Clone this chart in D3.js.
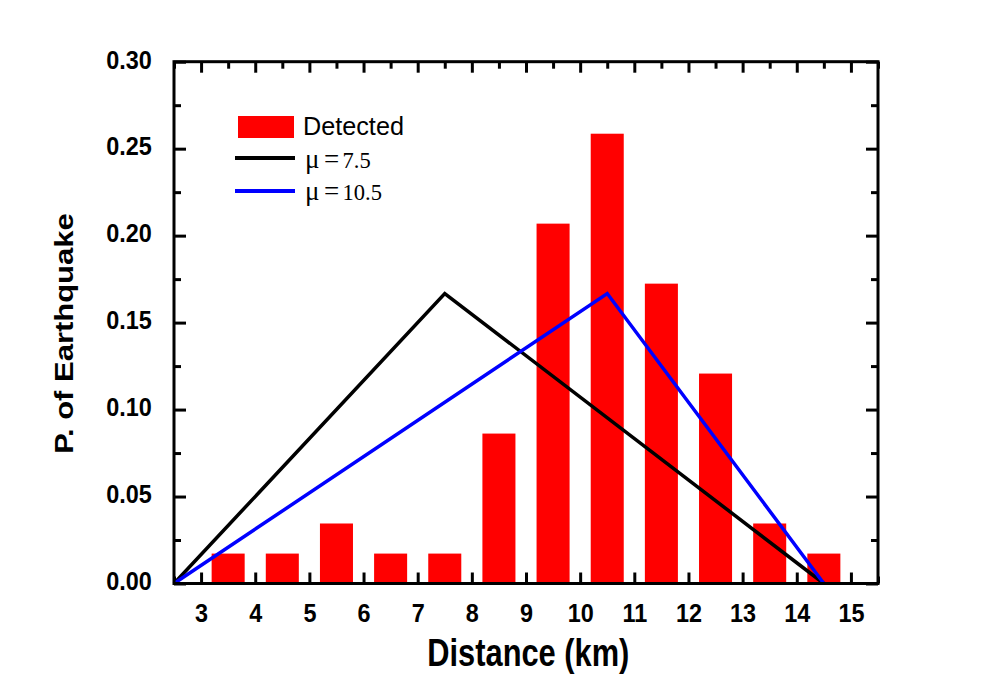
<!DOCTYPE html>
<html><head><meta charset="utf-8">
<script src="https://cdn.jsdelivr.net/npm/d3@7"></script>
<style>body{margin:0;background:#fff}svg{display:block}</style>
</head><body>
<script>
// Data
const distances = [3.5,4.5,5.5,6.5,7.5,8.5,9.5,10.5,11.5,12.5,13.5,14.5];
const detected  = [0.0172,0.0172,0.0345,0.0172,0.0172,0.0862,0.2069,0.2586,0.1724,0.1207,0.0345,0.0172];
const lineX     = [2.5,7.5,14.5];
const mu75      = [0,0.1667,0];
const lineX2    = [2.5,10.5,14.5];
const mu105     = [0,0.1667,0];
const xTicks    = [3,4,5,6,7,8,9,10,11,12,13,14,15];
const xMinor    = [2.5,3.5,4.5,5.5,6.5,7.5,8.5,9.5,10.5,11.5,12.5,13.5,14.5,15.5];
const yTicks    = [0,0.05,0.10,0.15,0.20,0.25,0.30];
const yMinor    = [0.025,0.075,0.125,0.175,0.225,0.275];
const muLabels  = ["7.5","10.5"];

const W=983,H=684;
const svg=d3.select("body").append("svg").attr("width",W).attr("height",H);
svg.append("rect").attr("width",W).attr("height",H).attr("fill","#fff");
const x=d3.scaleLinear().domain([2.5,15.5]).range([174,878]);
const y=d3.scaleLinear().domain([0,0.30]).range([583.5,61.7]);
const f="'Liberation Sans',Arial,sans-serif";
const serif="'Liberation Serif','Times New Roman',serif";

function styleAxis(g){
  g.select(".domain").remove();
  g.selectAll("line").attr("stroke","#000").attr("stroke-width",3);
  g.selectAll("text").attr("font-family",f).attr("font-weight","bold").attr("font-size","26px").attr("fill","#000");
}
// minor ticks
svg.append("g").attr("transform",`translate(0,${y(0)})`).call(d3.axisBottom(x).tickValues(xMinor).tickSizeInner(-7).tickSizeOuter(0).tickFormat("")).call(styleAxis);
svg.append("g").attr("transform",`translate(0,${y(0.30)})`).call(d3.axisTop(x).tickValues(xMinor).tickSizeInner(-7).tickSizeOuter(0).tickFormat("")).call(styleAxis);
svg.append("g").attr("transform",`translate(${x(2.5)},0)`).call(d3.axisLeft(y).tickValues(yMinor).tickSizeInner(-7).tickSizeOuter(0).tickFormat("")).call(styleAxis);
svg.append("g").attr("transform",`translate(${x(15.5)},0)`).call(d3.axisRight(y).tickValues(yMinor).tickSizeInner(-7).tickSizeOuter(0).tickFormat("")).call(styleAxis);
// major ticks
const bx=svg.append("g").attr("transform",`translate(0,${y(0)})`).call(d3.axisBottom(x).tickValues(xTicks).tickSizeInner(-11).tickSizeOuter(0).tickFormat(d3.format("d"))).call(styleAxis);
bx.selectAll("text").attr("y",0).attr("dy",0).attr("transform","translate(0,38) scale(0.9,1)");
svg.append("g").attr("transform",`translate(0,${y(0.30)})`).call(d3.axisTop(x).tickValues(xTicks).tickSizeInner(-11).tickSizeOuter(0).tickFormat("")).call(styleAxis);
const ly=svg.append("g").attr("transform",`translate(${x(2.5)},0)`).call(d3.axisLeft(y).tickValues(yTicks).tickSizeInner(-12).tickSizeOuter(0).tickFormat(d3.format(".2f"))).call(styleAxis);
ly.selectAll("text").attr("x",0).attr("dy",0).attr("transform",`translate(${151.7-x(2.5)},6.3) scale(0.9,1)`);
svg.append("g").attr("transform",`translate(${x(15.5)},0)`).call(d3.axisRight(y).tickValues(yTicks).tickSizeInner(-12).tickSizeOuter(0).tickFormat("")).call(styleAxis);

// bars
const bw=x(3.11)-x(2.5);
svg.append("g").selectAll("rect").data(distances).join("rect")
  .attr("x",(d)=>x(d)-bw/2).attr("width",bw)
  .attr("y",(d,i)=>y(detected[i])).attr("height",(d,i)=>y(0)-y(detected[i]))
  .attr("fill","#ff0000");

const line=d3.line().x(d=>x(d[0])).y(d=>y(d[1]));
svg.append("path").attr("d",line(lineX.map((v,i)=>[v,mu75[i]]))).attr("fill","none").attr("stroke","#000").attr("stroke-width",3.5);
svg.append("path").attr("d",line(lineX2.map((v,i)=>[v,mu105[i]]))).attr("fill","none").attr("stroke","#0000ff").attr("stroke-width",3.5);

// frame
svg.append("rect").attr("x",x(2.5)).attr("y",y(0.30)).attr("width",x(15.5)-x(2.5)).attr("height",y(0)-y(0.30))
  .attr("fill","none").attr("stroke","#000").attr("stroke-width",3).attr("stroke-linejoin","miter");

// legend
const lg=svg.append("g");
lg.append("rect").attr("x",238).attr("y",116).attr("width",56).attr("height",22).attr("fill","#ff0000");
lg.append("text").attr("transform","translate(303,135) scale(0.97,1)").attr("font-family",f).attr("font-size","26px").text("Detected");
const lineColors=["#000","#0000ff"], lineY=[158,191], textY=[168.3,199.8];
muLabels.forEach((lab,i)=>{
  lg.append("line").attr("x1",235).attr("x2",295).attr("y1",lineY[i]).attr("y2",lineY[i]).attr("stroke",lineColors[i]).attr("stroke-width",4);
  const t=lg.append("text").attr("transform",`translate(305,${textY[i]})`).attr("font-family",serif);
  t.append("tspan").attr("x",0).attr("font-size","27px").text("\u03bc");
  t.append("tspan").attr("x",19).attr("font-size","27px").text("=");
  t.append("tspan").attr("x",37.5).attr("font-size","22.5px").text(lab);
});

// titles
svg.append("text").attr("transform","translate(528.3,666) scale(0.78,1)").attr("text-anchor","middle")
  .attr("font-family",f).attr("font-weight","bold").attr("font-size","39.5px").text("Distance (km)");
svg.append("text").attr("transform","translate(73.3,333.5) rotate(-90) scale(1,0.81)").attr("text-anchor","middle")
  .attr("font-family",f).attr("font-weight","bold").attr("font-size","31px").text("P. of Earthquake");
</script>
</body></html>
